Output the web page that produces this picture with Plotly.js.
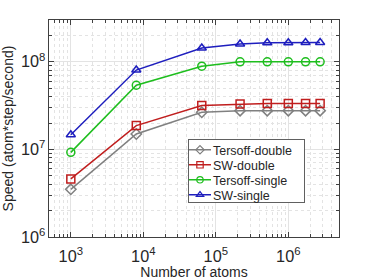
<!DOCTYPE html>
<html><head><meta charset="utf-8">
<script src="https://cdn.plot.ly/plotly-3.0.1.min.js"></script>
<style>html,body{margin:0;padding:0;background:#fff}#c{width:374px;height:280px}</style>
</head><body><div id="c"></div>
<script>
const atoms = [1000, 8000, 64000, 216000, 512000, 1000000, 1728000, 2744000];
const tersoffDouble = [3.5e6, 1.5e7, 2.65e7, 2.77e7, 2.77e7, 2.77e7, 2.77e7, 2.77e7];
const swDouble = [4.6e6, 1.87e7, 3.16e7, 3.3e7, 3.35e7, 3.35e7, 3.35e7, 3.35e7];
const tersoffSingle = [9.25e6, 5.4e7, 8.9e7, 1.0e8, 1.0e8, 1.0e8, 1.0e8, 1.0e8];
const swSingle = [1.47e7, 8.05e7, 1.44e8, 1.6e8, 1.65e8, 1.65e8, 1.66e8, 1.66e8];
const names = ["Tersoff-double", "SW-double", "Tersoff-single", "SW-single"];
const colors = ["#808080", "#c01e1e", "#1ebe1e", "#1e1ebe"];
const symbols = ["diamond-open", "square-open", "circle-open", "triangle-up-open"];
const series = [tersoffDouble, swDouble, tersoffSingle, swSingle];

const traces = series.map((s, i) => ({
  x: atoms, y: s, name: names[i], type: "scatter", mode: "lines+markers",
  line: {color: colors[i], width: 1.5},
  marker: {symbol: symbols[i], size: 8, color: colors[i], line: {width: 1.5, color: colors[i]}}
}));

const axisCommon = {
  type: "log", exponentformat: "power", showline: true, mirror: "ticks",
  linecolor: "#404040", linewidth: 1, ticks: "inside", ticklen: 5, tickcolor: "#404040",
  showgrid: true, gridcolor: "#e3e3e3", gridwidth: 1, zeroline: false,
  tickfont: {family: "Liberation Sans, Arial, sans-serif", size: 13, color: "#262626"},
  minor: {ticks: "inside", ticklen: 3, tickcolor: "#404040", showgrid: true, gridcolor: "#e3e3e3", griddash: "dot", gridwidth: 1}
};

const layout = {
  width: 374, height: 280,
  margin: {l: 49, r: 35, t: 20, b: 43},
  paper_bgcolor: "#fff", plot_bgcolor: "#fff",
  font: {family: "Liberation Sans, Arial, sans-serif", color: "#262626"},
  xaxis: Object.assign({}, axisCommon, {
    range: [Math.log10(500), Math.log10(5e6)], dtick: 1, ticklabelstandoff: 5,
    title: {text: "Number of atoms\u00a0\u00a0\u00a0\u00a0\u00a0", font: {size: 14}, standoff: 2}
  }),
  yaxis: Object.assign({}, axisCommon, {
    range: [6, Math.log10(3e8)], dtick: 1,
    title: {text: "Speed (atom*step/second)", font: {size: 14}, standoff: 4}
  }),
  legend: {
    x: (187.5 - 49) / 290, y: (237 - 139) / 217, xanchor: "left", yanchor: "top",
    bgcolor: "#fff", bordercolor: "#606060", borderwidth: 1,
    font: {size: 12.5, color: "#262626"}, tracegroupgap: 0, itemwidth: 30
  },
  showlegend: true
};

Plotly.newPlot("c", traces, layout, {staticPlot: true, displayModeBar: false}).then(() => {
  // compact the legend to the reference's tighter layout
  const leg = document.querySelector("#c .legend");
  if (!leg) return;
  const bg = leg.querySelector("rect.bg");
  const bx = bg ? parseFloat(bg.getAttribute("x")) || 0 : 0;
  const by = bg ? parseFloat(bg.getAttribute("y")) || 0 : 0;
  const rowH = 15, firstY = 10.3;
  const items = leg.querySelectorAll("g.traces");
  items.forEach((g, i) => {
    g.setAttribute("transform", `translate(${bx},${by + firstY + i * rowH})`);
    g.querySelectorAll("path.js-line").forEach(p => p.setAttribute("d", "M1,0h22"));
    g.querySelectorAll("g.legendpoints path.scatterpts").forEach(p => {
      p.setAttribute("transform", "translate(12,0) scale(0.8)");
    });
    const t = g.querySelector("text.legendtext");
    if (t) t.setAttribute("x", 25);
    const r = g.querySelector("rect.legendtoggle");
    if (r) r.setAttribute("width", 110);
  });
  if (bg) {
    bg.setAttribute("height", 62.5);
    bg.setAttribute("width", 116);
  }
});
</script></body></html>
